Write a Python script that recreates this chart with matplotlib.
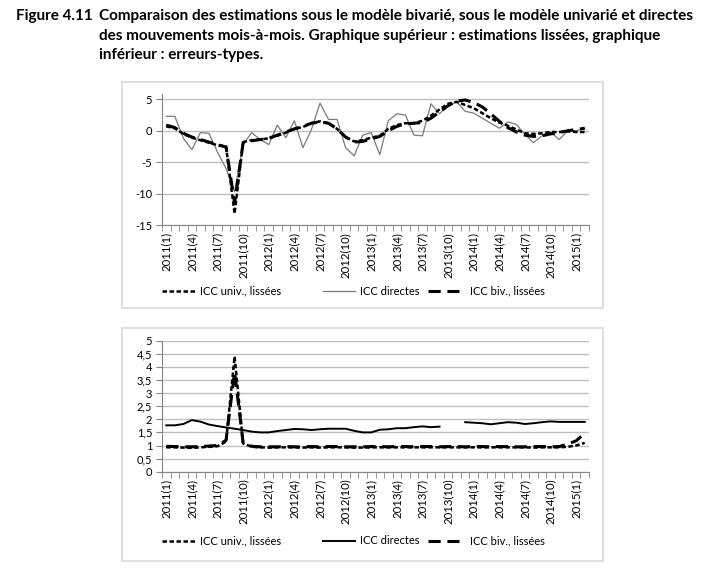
import numpy as np
import matplotlib
matplotlib.use("Agg")
import matplotlib.pyplot as plt
from matplotlib.patches import Rectangle
from matplotlib.ticker import FuncFormatter

plt.rcParams['font.family'] = ['Lato', 'DejaVu Sans']
plt.rcParams['axes.unicode_minus'] = False

# months 2011(1) .. 2015(2)
years = [2011, 2012, 2013, 2014, 2015]
months = [f"{y}({m})" for y in years for m in range(1, 13)][:50]

# top panel: smoothed estimates
direct_est = [2.3, 2.3, -1.2, -3.0, -0.3, -0.4, -3.4, -6.0, -9.7, -2.2,
              -0.3, -1.4, -2.2, 0.9, -1.1, 1.6, -2.7, 0.2, 4.4, 1.8,
              1.8, -2.7, -4.0, -0.7, -0.3, -3.8, 1.6, 2.7, 2.5, -0.7,
              -0.8, 4.3, 2.7, 4.0, 4.6, 3.1, 2.8, 2.0, 1.2, 0.4,
              1.4, 1.0, -0.6, -1.9, -0.8, -0.2, -1.4, 0.0, 0.0, 0.4]
univ_est = [0.7, 0.4, -0.5, -1.1, -1.5, -1.9, -2.3, -2.5, -13.2, -1.8,
            -1.5, -1.4, -1.2, -0.8, -0.3, 0.3, 0.6, 1.2, 1.5, 1.2,
            0.3, -1.0, -1.7, -1.5, -1.1, -0.8, 0.3, 0.9, 1.2, 1.2,
            1.6, 2.4, 3.4, 4.3, 4.6, 4.1, 3.6, 2.8, 2.0, 1.3,
            0.8, 0.2, -0.4, -0.5, -0.4, -0.2, -0.2, -0.1, -0.2, -0.2]
biv_est = [0.9, 0.5, -0.4, -1.0, -1.4, -1.8, -2.2, -2.6, -11.5, -1.9,
           -1.6, -1.4, -1.2, -0.7, -0.2, 0.3, 0.7, 1.2, 1.4, 1.2,
           0.3, -1.0, -1.8, -1.7, -1.3, -0.9, 0.0, 0.7, 1.1, 1.2,
           1.3, 2.0, 3.0, 4.0, 4.7, 4.9, 4.5, 3.8, 2.7, 1.5,
           0.5, -0.2, -0.7, -0.9, -0.8, -0.5, -0.3, 0.0, 0.2, 0.4]

# bottom panel: standard errors
direct_se = [1.77, 1.77, 1.82, 1.97, 1.91, 1.80, 1.74, 1.69, 1.64, 1.59,
             1.53, 1.50, 1.50, 1.55, 1.59, 1.63, 1.62, 1.59, 1.62, 1.64,
             1.64, 1.64, 1.56, 1.50, 1.50, 1.60, 1.62, 1.66, 1.66, 1.70,
             1.73, 1.70, 1.72, np.nan, np.nan, 1.89, 1.87, 1.85, 1.81, 1.85,
             1.89, 1.87, 1.82, 1.85, 1.89, 1.92, 1.90, 1.90, 1.90, 1.90]
univ_se = [0.93, 0.93, 0.92, 0.91, 0.93, 0.95, 0.97, 1.15, 4.40, 1.08,
           0.95, 0.93, 0.92, 0.93, 0.93, 0.93, 0.92, 0.93, 0.92, 0.93,
           0.93, 0.93, 0.92, 0.92, 0.93, 0.93, 0.93, 0.93, 0.93, 0.93,
           0.93, 0.93, 0.93, 0.93, 0.93, 0.93, 0.93, 0.93, 0.93, 0.93,
           0.93, 0.93, 0.93, 0.92, 0.93, 0.93, 0.93, 0.95, 1.00, 1.10]
biv_se = [0.97, 0.96, 0.95, 0.95, 0.96, 0.98, 1.00, 1.20, 3.80, 1.10,
          0.97, 0.95, 0.95, 0.95, 0.96, 0.95, 0.95, 0.96, 0.95, 0.96,
          0.96, 0.95, 0.95, 0.95, 0.96, 0.96, 0.95, 0.96, 0.96, 0.95,
          0.96, 0.96, 0.95, 0.96, 0.96, 0.95, 0.96, 0.96, 0.95, 0.96,
          0.96, 0.95, 0.95, 0.96, 0.96, 0.95, 0.96, 1.05, 1.18, 1.47]

W, H = 725, 575
fig = plt.figure(figsize=(W / 100, H / 100), dpi=100)

def px(x0, y0, x1, y1):
    return [x0 / W, 1 - y1 / H, (x1 - x0) / W, (y1 - y0) / H]

# titles
tkw = dict(fontsize=11, fontweight='bold', va='baseline')
fig.text(16 / W, 1 - 20 / H, "Figure 4.11", **tkw)
fig.text(99 / W, 1 - 20 / H, "Comparaison des estimations sous le modèle bivarié, sous le modèle univarié et directes", **tkw)
fig.text(99 / W, 1 - 40 / H, "des mouvements mois-à-mois. Graphique supérieur : estimations lissées, graphique", **tkw)
fig.text(99 / W, 1 - 59 / H, "inférieur : erreurs-types.", **tkw)

# outer boxes
for y0, y1 in [(82, 308), (328, 561)]:
    fig.patches.append(Rectangle((122 / W, 1 - y1 / H), 481 / W, (y1 - y0) / H,
                                 transform=fig.transFigure, fill=False,
                                 edgecolor='#d9d9d9', linewidth=1.2))

x = np.arange(len(months))
grid_c = '#bfbfbf'
axis_c = '#868686'
univ_dash = (1.8, 1.0)
biv_dash = (4.0, 2.2)

def style_axis(ax):
    ax.set_xlim(-0.5, len(months) - 0.5)
    for s in ['top', 'right']:
        ax.spines[s].set_visible(False)
    ax.spines['left'].set_color(axis_c)
    ax.spines['bottom'].set_color(axis_c)
    ax.yaxis.grid(True, color=grid_c, linewidth=1)
    ax.set_axisbelow(True)
    ax.set_xticks(x[::3])
    ax.set_xticklabels(months[::3], rotation=90, fontsize=8.2)
    ax.tick_params(axis='x', which='major', length=0, pad=5)
    ax.set_xticks(np.arange(-0.5, len(months)), minor=True)
    ax.tick_params(axis='x', which='minor', length=4, color=axis_c)
    ax.tick_params(axis='y', length=4, color=axis_c, labelsize=8, pad=3)

def add_legend(lines, y):
    # Excel-like fixed slots: (line, left edge px, handle length, text pad)
    slots = [(lines[1], 162, 3.15, 0.3), (lines[0], 323, 2.9, 0.4), (lines[2], 428, 2.8, 0.95)]
    for ln, x0, hl, pad in slots:
        fig.legend([ln], [ln.get_label()], loc='center left',
                   bbox_to_anchor=(x0 / W, 1 - y / H), borderaxespad=0, borderpad=0,
                   frameon=False, fontsize=8, handlelength=hl, handletextpad=pad)

# top panel
ax1 = fig.add_axes(px(162, 94, 589, 225))
l1 = ax1.plot(x, direct_est, color='#7a7a7a', linewidth=0.9, label='ICC directes')
l2 = ax1.plot(x, univ_est, color='black', linewidth=1.8, dashes=univ_dash, label='ICC univ., lissées')
l3 = ax1.plot(x, biv_est, color='black', linewidth=2.2, dashes=biv_dash, label='ICC biv., lissées')
ax1.set_ylim(-15, 5.85)
ax1.set_yticks([-15, -10, -5, 0, 5])
style_axis(ax1)
add_legend([l1[0], l2[0], l3[0]], 291)

# bottom panel
ax2 = fig.add_axes(px(162, 340.7, 589, 471.7))
m1 = ax2.plot(x, direct_se, color='black', linewidth=1.4, label='ICC directes')
m2 = ax2.plot(x, univ_se, color='black', linewidth=1.8, dashes=univ_dash, label='ICC univ., lissées')
m3 = ax2.plot(x, biv_se, color='black', linewidth=2.2, dashes=biv_dash, label='ICC biv., lissées')
ax2.set_ylim(0, 5)
ax2.set_yticks(np.arange(0, 5.01, 0.5))
ax2.yaxis.set_major_formatter(FuncFormatter(lambda v, p: f"{v:g}".replace('.', ',')))
style_axis(ax2)
add_legend([m1[0], m2[0], m3[0]], 541)

fig.savefig("out.png", dpi=100)
